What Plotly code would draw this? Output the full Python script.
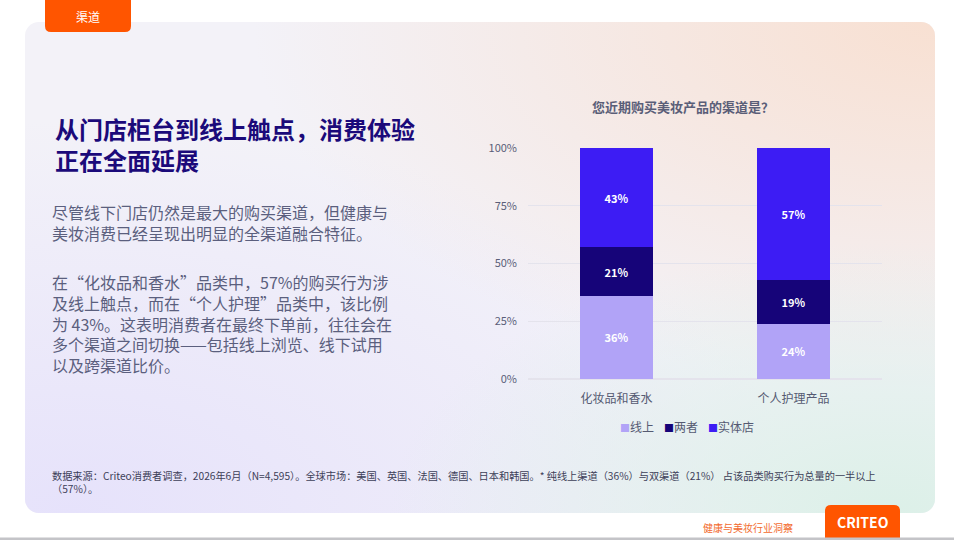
import plotly.graph_objects as go

W, H = 954, 540

categories = ["化妆品和香水", "个人护理产品"]
series_names = ["线上", "两者", "实体店"]
online = [36, 24]
both = [21, 19]
store = [43, 57]
tick_vals = [0, 25, 50, 75, 100]
tick_text = ["0%", "25%", "50%", "75%", "100%"]

colors = ["#b1a3f7", "#160479", "#3d1cf4"]
FONT = "Noto Sans CJK SC"


def px(x):
    return x / W


def py(y):
    return 1 - y / H


# card background as an svg gradient
svg = (
    "<svg xmlns='http://www.w3.org/2000/svg' width='910' height='491'>"
    "<defs>"
    "<radialGradient id='p' cx='1' cy='0' r='0.75'><stop offset='0' stop-color='#f8e0d2'/>"
    "<stop offset='1' stop-color='#f8e0d2' stop-opacity='0'/></radialGradient>"
    "<radialGradient id='m' cx='0.95' cy='1' r='0.55'><stop offset='0' stop-color='#dcf0e8'/>"
    "<stop offset='1' stop-color='#dcf0e8' stop-opacity='0'/></radialGradient>"
    "<radialGradient id='l' cx='0.05' cy='1' r='0.8'><stop offset='0' stop-color='#e6e2fb'/>"
    "<stop offset='1' stop-color='#e6e2fb' stop-opacity='0'/></radialGradient>"
    "</defs>"
    "<rect width='910' height='491' rx='14' fill='#f3f2f8'/>"
    "<rect width='910' height='491' rx='14' fill='url(#l)'/>"
    "<rect width='910' height='491' rx='14' fill='url(#p)'/>"
    "<rect width='910' height='491' rx='14' fill='url(#m)'/>"
    "</svg>"
)
svg_uri = "data:image/svg+xml;utf8," + svg.replace("#", "%23").replace("<", "%3C").replace(">", "%3E")

fig = go.Figure()
for name, vals, col in zip(series_names, [online, both, store], colors):
    fig.add_trace(go.Bar(
        x=categories, y=vals, name=name, marker=dict(color=col, line=dict(width=0)),
        width=0.41, text=[f"{v}%" for v in vals], textposition="inside",
        insidetextanchor="middle", showlegend=False,
        textfont=dict(color="white", size=11, family=FONT, weight="bold"),
    ))

fig.update_layout(
    width=W, height=H, barmode="stack",
    margin=dict(l=0, r=0, t=0, b=0, pad=0, autoexpand=False),
    paper_bgcolor="white", plot_bgcolor="rgba(0,0,0,0)",
    font=dict(family=FONT, color="#5a5e78"),
    xaxis=dict(domain=[px(528), px(882)], tickfont=dict(size=12, color="#555a72"),
               ticks="", showgrid=False, showline=False, ticklabelstandoff=11,
               automargin=False),
    yaxis=dict(domain=[py(379), py(148)], range=[0, 100], tickvals=tick_vals,
               ticktext=tick_text, tickfont=dict(size=11, color="#5a5e78"),
               gridcolor="#e4e3ec", zeroline=True, zerolinecolor="#e4e3ec",
               showline=False, ticklabelstandoff=10, automargin=False),
    bargap=0.59,
)

fig.add_layout_image(dict(source=svg_uri, xref="paper", yref="paper",
                          x=px(25), y=py(22), sizex=px(935) - px(25), sizey=py(22) - py(513),
                          xanchor="left", yanchor="top", sizing="stretch", layer="below"))

# orange tab top-left
r = 6
fig.add_shape(type="path", xref="paper", yref="paper", line=dict(width=0), fillcolor="#ff5500",
              path=(f"M {px(45)},{py(0)} L {px(131)},{py(0)} L {px(131)},{py(32 - r)} "
                    f"Q {px(131)},{py(32)} {px(131 - r)},{py(32)} L {px(45 + r)},{py(32)} "
                    f"Q {px(45)},{py(32)} {px(45)},{py(32 - r)} Z"))
# orange logo box bottom-right
fig.add_shape(type="path", xref="paper", yref="paper", line=dict(width=0), fillcolor="#ff5500",
              path=(f"M {px(825)},{py(540)} L {px(825)},{py(505 + r)} "
                    f"Q {px(825)},{py(505)} {px(825 + r)},{py(505)} L {px(900 - r)},{py(505)} "
                    f"Q {px(900)},{py(505)} {px(900)},{py(505 + r)} L {px(900)},{py(540)} Z"))
# grey strip at the very bottom
fig.add_shape(type="rect", xref="paper", yref="paper", x0=0, x1=1, y0=0, y1=py(537.5),
              line=dict(width=0), fillcolor="#c4c4c8")

def note(x, y, text, size, color, bold=False, xanchor="left", yanchor="middle"):
    fig.add_annotation(x=px(x), y=py(y), xref="paper", yref="paper", text=text,
                       showarrow=False, xanchor=xanchor, yanchor=yanchor, align="left",
                       font=dict(family=FONT, size=size, color=color,
                                 weight="bold" if bold else "normal"))

# compact legend below the bars (square glyph + series name)
for lx, name, col in zip([618, 662, 706], series_names, colors):
    note(lx, 426, f"<span style='color:{col};font-size:10px'>■</span>{name}", 12, "#555a72")

note(88, 16, "渠道", 12, "white", xanchor="center")
note(863, 522, "CRITEO", 14, "white", bold=True, xanchor="center")
note(795, 527, "健康与美妆行业洞察", 10, "#f26a2e", xanchor="right")

note(53, 109, "从门店柜台到线上触点，消费体验<br>正在全面延展", 24, "#1b0a7a",
     bold=True, yanchor="top")
note(50, 198, "尽管线下门店仍然是最大的购买渠道，但健康与<br>美妆消费已经呈现出明显的全渠道融合特征。",
     16, "#5b5f7e", yanchor="top")
note(50, 268, "在“化妆品和香水”品类中，57%的购买行为涉<br>及线上触点，而在“个人护理”品类中，该比例<br>"
     "为 43%。这表明消费者在最终下单前，往往会在<br>多个渠道之间切换——包括线上浏览、线下试用<br>以及跨渠道比价。",
     16, "#5b5f7e", yanchor="top")

note(683, 106, "您近期购买美妆产品的渠道是？", 13, "#5a5e78", bold=True, xanchor="center")

note(50, 466, "数据来源：Criteo消费者调查，2026年6月（N=4,595）。全球市场：美国、英国、法国、德国、日本和韩国。"
     "* 纯线上渠道（36%）与双渠道（21%） 占该品类购买行为总量的一半以上<br>（57%）。",
     10.2, "#3d4058", yanchor="top")

fig.write_html("out.html", config={"displayModeBar": False},
               post_script="document.body.style.margin='0';")
